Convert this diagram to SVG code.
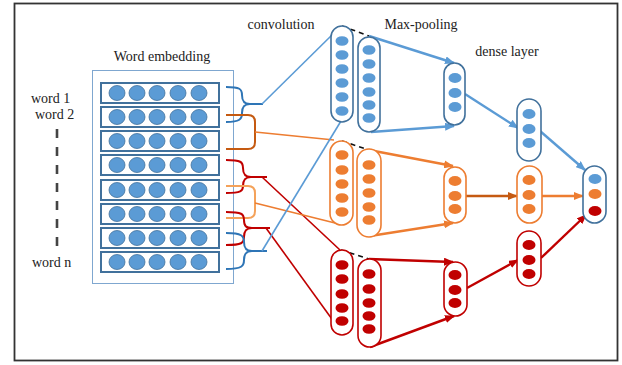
<svg xmlns="http://www.w3.org/2000/svg" width="622" height="365" viewBox="0 0 622 365">
<style>
.lbl{font-family:"Liberation Serif","Times New Roman",serif;font-size:14px;fill:#222}
.row{fill:#fff;stroke:#41719c;stroke-width:2}
.emb{fill:#5b9bd5;stroke:#41719c;stroke-width:0.8}
.cb{fill:#fff;stroke:#41719c;stroke-width:1.6}
.co{fill:#fff;stroke:#ed7d31;stroke-width:1.6}
.cr{fill:#fff;stroke:#c00000;stroke-width:1.6}
.db{fill:#5b9bd5}
.do{fill:#ed7d31}
.dr{fill:#c00000}
.br{fill:none;stroke-width:2}
.ln{fill:none;stroke-width:1.6}
.ar{fill:none;stroke-width:2.4}
.dash{fill:none;stroke:#111;stroke-width:1.6;stroke-dasharray:5 4}
</style>
<defs>
<marker id="mb" markerUnits="userSpaceOnUse" markerWidth="10" markerHeight="8" refX="9" refY="4" orient="auto"><path d="M0,0 L10,4 L0,8 Z" fill="#5b9bd5"/></marker>
<marker id="mo" markerUnits="userSpaceOnUse" markerWidth="10" markerHeight="8" refX="9" refY="4" orient="auto"><path d="M0,0 L10,4 L0,8 Z" fill="#ed7d31"/></marker>
<marker id="md" markerUnits="userSpaceOnUse" markerWidth="10" markerHeight="8" refX="9" refY="4" orient="auto"><path d="M0,0 L10,4 L0,8 Z" fill="#c55a11"/></marker>
<marker id="mr" markerUnits="userSpaceOnUse" markerWidth="10" markerHeight="8" refX="9" refY="4" orient="auto"><path d="M0,0 L10,4 L0,8 Z" fill="#c00000"/></marker>
</defs>
<rect x="0" y="0" width="622" height="365" fill="#fff"/>
<rect x="14.5" y="3.5" width="603" height="357" fill="#fff" stroke="#333" stroke-width="1.8"/>

<g id="labels">
<text class="lbl" x="281" y="29" text-anchor="middle">convolution</text>
<text class="lbl" x="421" y="29" text-anchor="middle">Max-pooling</text>
<text class="lbl" x="507" y="56" text-anchor="middle">dense layer</text>
<text class="lbl" x="162" y="61" text-anchor="middle">Word embedding</text>
<text class="lbl" x="31" y="103">word 1</text>
<text class="lbl" x="35" y="119">word 2</text>
<text class="lbl" x="32" y="267">word n</text>
<line x1="57" y1="129" x2="57" y2="246" stroke="#444" stroke-width="2.6" stroke-dasharray="9 9"/>
</g>

<g id="embedding">
<rect x="92.5" y="70.5" width="141" height="213" fill="#fff" stroke="#7fa7d0" stroke-width="1"/>
<g id="row1"><rect class="row" x="101" y="83" width="118" height="20"/><ellipse class="emb" cx="117" cy="93" rx="8" ry="7.5"/><ellipse class="emb" cx="137" cy="93" rx="8" ry="7.5"/><ellipse class="emb" cx="157" cy="93" rx="8" ry="7.5"/><ellipse class="emb" cx="178" cy="93" rx="8" ry="7.5"/><ellipse class="emb" cx="199" cy="93" rx="8" ry="7.5"/></g>
<g id="row2"><rect class="row" x="101" y="107" width="118" height="20"/><ellipse class="emb" cx="117" cy="117" rx="8" ry="7.5"/><ellipse class="emb" cx="137" cy="117" rx="8" ry="7.5"/><ellipse class="emb" cx="157" cy="117" rx="8" ry="7.5"/><ellipse class="emb" cx="178" cy="117" rx="8" ry="7.5"/><ellipse class="emb" cx="199" cy="117" rx="8" ry="7.5"/></g>
<g id="row3"><rect class="row" x="101" y="131" width="118" height="20"/><ellipse class="emb" cx="117" cy="141" rx="8" ry="7.5"/><ellipse class="emb" cx="137" cy="141" rx="8" ry="7.5"/><ellipse class="emb" cx="157" cy="141" rx="8" ry="7.5"/><ellipse class="emb" cx="178" cy="141" rx="8" ry="7.5"/><ellipse class="emb" cx="199" cy="141" rx="8" ry="7.5"/></g>
<g id="row4"><rect class="row" x="101" y="155" width="118" height="20"/><ellipse class="emb" cx="117" cy="165" rx="8" ry="7.5"/><ellipse class="emb" cx="137" cy="165" rx="8" ry="7.5"/><ellipse class="emb" cx="157" cy="165" rx="8" ry="7.5"/><ellipse class="emb" cx="178" cy="165" rx="8" ry="7.5"/><ellipse class="emb" cx="199" cy="165" rx="8" ry="7.5"/></g>
<g id="row5"><rect class="row" x="101" y="180" width="118" height="20"/><ellipse class="emb" cx="117" cy="190" rx="8" ry="7.5"/><ellipse class="emb" cx="137" cy="190" rx="8" ry="7.5"/><ellipse class="emb" cx="157" cy="190" rx="8" ry="7.5"/><ellipse class="emb" cx="178" cy="190" rx="8" ry="7.5"/><ellipse class="emb" cx="199" cy="190" rx="8" ry="7.5"/></g>
<g id="row6"><rect class="row" x="101" y="204" width="118" height="20"/><ellipse class="emb" cx="117" cy="214" rx="8" ry="7.5"/><ellipse class="emb" cx="137" cy="214" rx="8" ry="7.5"/><ellipse class="emb" cx="157" cy="214" rx="8" ry="7.5"/><ellipse class="emb" cx="178" cy="214" rx="8" ry="7.5"/><ellipse class="emb" cx="199" cy="214" rx="8" ry="7.5"/></g>
<g id="row7"><rect class="row" x="101" y="228" width="118" height="20"/><ellipse class="emb" cx="117" cy="238" rx="8" ry="7.5"/><ellipse class="emb" cx="137" cy="238" rx="8" ry="7.5"/><ellipse class="emb" cx="157" cy="238" rx="8" ry="7.5"/><ellipse class="emb" cx="178" cy="238" rx="8" ry="7.5"/><ellipse class="emb" cx="199" cy="238" rx="8" ry="7.5"/></g>
<g id="row8"><rect class="row" x="101" y="252" width="118" height="20"/><ellipse class="emb" cx="117" cy="262" rx="8" ry="7.5"/><ellipse class="emb" cx="137" cy="262" rx="8" ry="7.5"/><ellipse class="emb" cx="157" cy="262" rx="8" ry="7.5"/><ellipse class="emb" cx="178" cy="262" rx="8" ry="7.5"/><ellipse class="emb" cx="199" cy="262" rx="8" ry="7.5"/></g>
</g>

<g id="braces">
<path class="br" stroke="#2e75b6" d="M226,87 C240,87 242,89 242,95 C242,101 244,104 250,104 H263 M250,104 C244,104 242,107 242,113 C242,119 240,122 226,122"/>
<path class="br" stroke="#c55a11" d="M226,115 H248 Q255,115 255,122 V142 Q255,149 248,149 H226"/>
<path class="br" stroke="#c00000" d="M226,160 C241,160 243,162 243,168 C243,174 245,177 251,177 H267 M251,177 C245,177 243,180 243,186 C243,191 241,193 226,193"/>
<path class="br" stroke="#f4a25a" d="M226,186 H248 Q255,186 255,193 V211 Q255,218 248,218 H226"/>
<path class="br" stroke="#c00000" d="M226,212 C242,212 244,214 244,220 C244,226 246,228 252,228 H270 M252,228 C246,228 244,231 244,237 C244,243 242,245 226,245"/>
<path class="br" stroke="#2e75b6" d="M226,233 C242,233 244,236 244,242 C244,248 246,251 252,251 H267 M252,251 C246,251 244,254 244,260 C244,266 242,269 226,269"/>
</g>

<g id="connectors">
<line class="ln" stroke="#5b9bd5" x1="262" y1="104" x2="335" y2="32"/>
<line class="ln" stroke="#ed7d31" x1="255" y1="132" x2="334" y2="140"/>
<line class="ln" stroke="#c00000" x1="262" y1="177" x2="340" y2="250"/>
<line class="ln" stroke="#ed7d31" x1="255" y1="203" x2="335" y2="223"/>
<line class="ln" stroke="#c00000" x1="266" y1="228" x2="342" y2="333"/>
<line class="ln" stroke="#5b9bd5" x1="262" y1="251" x2="341" y2="121"/>
<line class="dash" x1="342" y1="26" x2="369" y2="36"/>
<line class="dash" x1="342" y1="141" x2="369" y2="150"/>
<line class="dash" x1="341" y1="250" x2="369" y2="259"/>
<line class="ar" stroke="#5b9bd5" x1="369" y1="36" x2="454" y2="63" marker-end="url(#mb)"/>
<line class="ar" stroke="#5b9bd5" x1="371" y1="132" x2="454" y2="126" marker-end="url(#mb)"/>
<line class="ar" stroke="#5b9bd5" x1="465" y1="94" x2="518" y2="128" marker-end="url(#mb)"/>
<line class="ar" stroke="#5b9bd5" x1="540" y1="131" x2="585" y2="170" marker-end="url(#mb)"/>
<line class="ar" stroke="#ed7d31" x1="369" y1="150" x2="453" y2="166" marker-end="url(#mo)"/>
<line class="ar" stroke="#ed7d31" x1="370" y1="236" x2="453" y2="223" marker-end="url(#mo)"/>
<line class="ar" stroke="#c55a11" x1="466" y1="196" x2="517" y2="196" marker-end="url(#md)"/>
<line class="ar" stroke="#ed7d31" x1="542" y1="196" x2="583" y2="196" marker-end="url(#mo)"/>
<line class="ar" stroke="#c00000" x1="369" y1="259" x2="453" y2="262" marker-end="url(#mr)"/>
<line class="ar" stroke="#c00000" x1="370" y1="347" x2="454" y2="316" marker-end="url(#mr)"/>
<line class="ar" stroke="#c00000" x1="467" y1="288" x2="518" y2="260" marker-end="url(#mr)"/>
<line class="ar" stroke="#c00000" x1="541" y1="258" x2="586" y2="215" marker-end="url(#mr)"/>
</g>

<g id="conv-blue"><rect class="cb" x="331" y="26" width="22" height="96" rx="11"/><ellipse class="db" cx="342" cy="41" rx="6.5" ry="4.8"/><ellipse class="db" cx="342" cy="55" rx="6.5" ry="4.8"/><ellipse class="db" cx="342" cy="69" rx="6.5" ry="4.8"/><ellipse class="db" cx="342" cy="83" rx="6.5" ry="4.8"/><ellipse class="db" cx="342" cy="97" rx="6.5" ry="4.8"/><ellipse class="db" cx="342" cy="111" rx="6.5" ry="4.8"/></g>
<g id="pool-blue"><rect class="cb" x="358" y="37" width="22" height="95" rx="11"/><ellipse class="db" cx="369" cy="50" rx="6.5" ry="4.8"/><ellipse class="db" cx="369" cy="64" rx="6.5" ry="4.8"/><ellipse class="db" cx="369" cy="78" rx="6.5" ry="4.8"/><ellipse class="db" cx="369" cy="92" rx="6.5" ry="4.8"/><ellipse class="db" cx="369" cy="105" rx="6.5" ry="4.8"/><ellipse class="db" cx="369" cy="118" rx="6.5" ry="4.8"/></g>
<g id="conv-orange"><rect class="co" x="330" y="141" width="23" height="84" rx="11.5"/><ellipse class="do" cx="342" cy="155" rx="6.5" ry="4.8"/><ellipse class="do" cx="342" cy="170" rx="6.5" ry="4.8"/><ellipse class="do" cx="342" cy="184" rx="6.5" ry="4.8"/><ellipse class="do" cx="342" cy="198" rx="6.5" ry="4.8"/><ellipse class="do" cx="342" cy="212" rx="6.5" ry="4.8"/></g>
<g id="pool-orange"><rect class="co" x="357" y="149" width="24" height="88" rx="12"/><ellipse class="do" cx="369" cy="165" rx="6.5" ry="4.8"/><ellipse class="do" cx="369" cy="179" rx="6.5" ry="4.8"/><ellipse class="do" cx="369" cy="193" rx="6.5" ry="4.8"/><ellipse class="do" cx="369" cy="207" rx="6.5" ry="4.8"/><ellipse class="do" cx="369" cy="220" rx="6.5" ry="4.8"/></g>
<g id="conv-red"><rect class="cr" x="331" y="250" width="22" height="85" rx="11"/><ellipse class="dr" cx="342" cy="265" rx="6.5" ry="4.8"/><ellipse class="dr" cx="342" cy="279" rx="6.5" ry="4.8"/><ellipse class="dr" cx="342" cy="294" rx="6.5" ry="4.8"/><ellipse class="dr" cx="342" cy="308" rx="6.5" ry="4.8"/><ellipse class="dr" cx="342" cy="321" rx="6.5" ry="4.8"/></g>
<g id="pool-red"><rect class="cr" x="358" y="259" width="23" height="88" rx="11.5"/><ellipse class="dr" cx="369" cy="274" rx="6.5" ry="4.8"/><ellipse class="dr" cx="369" cy="289" rx="6.5" ry="4.8"/><ellipse class="dr" cx="369" cy="303" rx="6.5" ry="4.8"/><ellipse class="dr" cx="369" cy="316" rx="6.5" ry="4.8"/><ellipse class="dr" cx="369" cy="329" rx="6.5" ry="4.8"/></g>

<g id="dense1-blue"><rect class="cb" x="444" y="63" width="21" height="62" rx="10.5"/><ellipse class="db" cx="455" cy="78" rx="6.5" ry="5"/><ellipse class="db" cx="455" cy="93" rx="6.5" ry="5"/><ellipse class="db" cx="455" cy="107" rx="6.5" ry="5"/></g>
<g id="dense1-orange"><rect class="co" x="444" y="167" width="22" height="56" rx="11"/><ellipse class="do" cx="455" cy="181" rx="6.5" ry="5"/><ellipse class="do" cx="455" cy="196" rx="6.5" ry="5"/><ellipse class="do" cx="455" cy="209" rx="6.5" ry="5"/></g>
<g id="dense1-red"><rect class="cr" x="444" y="262" width="23" height="54" rx="11.5"/><ellipse class="dr" cx="455" cy="275" rx="6.5" ry="5"/><ellipse class="dr" cx="455" cy="290" rx="6.5" ry="5"/><ellipse class="dr" cx="455" cy="303" rx="6.5" ry="5"/></g>
<g id="dense2-blue"><rect class="cb" x="517" y="99" width="24" height="62" rx="12"/><ellipse class="db" cx="529" cy="114" rx="6.5" ry="5"/><ellipse class="db" cx="529" cy="129" rx="6.5" ry="5"/><ellipse class="db" cx="529" cy="143" rx="6.5" ry="5"/></g>
<g id="dense2-orange"><rect class="co" x="517" y="166" width="25" height="57" rx="12.5"/><ellipse class="do" cx="529" cy="180" rx="6.5" ry="5"/><ellipse class="do" cx="529" cy="195" rx="6.5" ry="5"/><ellipse class="do" cx="529" cy="209" rx="6.5" ry="5"/></g>
<g id="dense2-red"><rect class="cr" x="517" y="231" width="24" height="55" rx="12"/><ellipse class="dr" cx="529" cy="245" rx="6.5" ry="5"/><ellipse class="dr" cx="529" cy="260" rx="6.5" ry="5"/><ellipse class="dr" cx="529" cy="274" rx="6.5" ry="5"/></g>
<g id="output"><rect class="cb" x="583" y="166" width="23" height="57" rx="11.5"/><ellipse class="db" cx="595" cy="179" rx="6.5" ry="5"/><ellipse class="do" cx="595" cy="194" rx="6.5" ry="5"/><ellipse class="dr" cx="595" cy="211" rx="6.5" ry="5"/></g>
</svg>
